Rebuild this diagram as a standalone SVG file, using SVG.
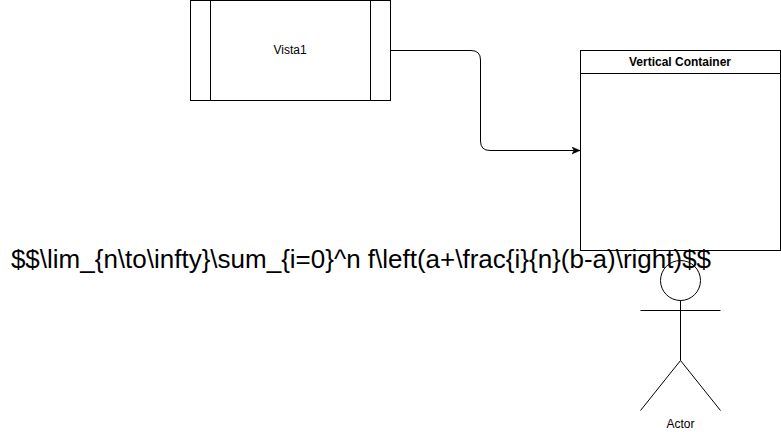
<svg xmlns="http://www.w3.org/2000/svg" width="781" height="432" viewBox="0 0 781 432">
<defs>
<style>
text{font-family:"Liberation Sans",Arial,Helvetica,sans-serif;fill:#000;text-anchor:middle}
.s{fill:none;stroke:#000;stroke-width:1}
.b{fill:#fff;stroke:#000;stroke-width:1}
.lbl{font-size:12px}
</style>
<marker id="arrow" markerUnits="userSpaceOnUse" markerWidth="10" markerHeight="9" refX="8.5" refY="4" orient="auto">
<path d="M0.5 0.5L8.5 4L0.5 7.5L2.5 4Z" fill="#000" stroke="#000" stroke-width="0.5"/>
</marker>
</defs>
<rect width="781" height="432" fill="#fff"/>
<g id="connectors">
<path class="s" d="M390.5 50.5H471Q480.5 50.5 480.5 60V141Q480.5 150.5 490 150.5H580" marker-end="url(#arrow)"/>
</g>
<g id="vista1">
<rect class="b" x="190.5" y="0.5" width="200" height="100"/>
<path class="s" d="M210.5 0.5V100.5M370.5 0.5V100.5"/>
<text class="lbl" x="290" y="54">Vista1</text>
</g>
<g id="vertical-container">
<rect class="b" x="580.5" y="50.5" width="200" height="200"/>
<path class="s" d="M580.5 73.5H780.5"/>
<text class="lbl" x="680" y="66" font-weight="700">Vertical Container</text>
</g>
<g id="actor">
<circle class="s" cx="680.5" cy="280.5" r="20"/>
<path class="s" d="M680.5 300.5V360.5M640.5 310.5H720.5M640.5 410.5L680.5 360.5L720.5 410.5"/>
<text class="lbl" x="680.5" y="428">Actor</text>
</g>
<g id="formula">
<text x="361" y="268" font-size="26">$$\lim_{n\to\infty}\sum_{i=0}^n f\left(a+\frac{i}{n}(b-a)\right)$$</text>
</g>
</svg>
